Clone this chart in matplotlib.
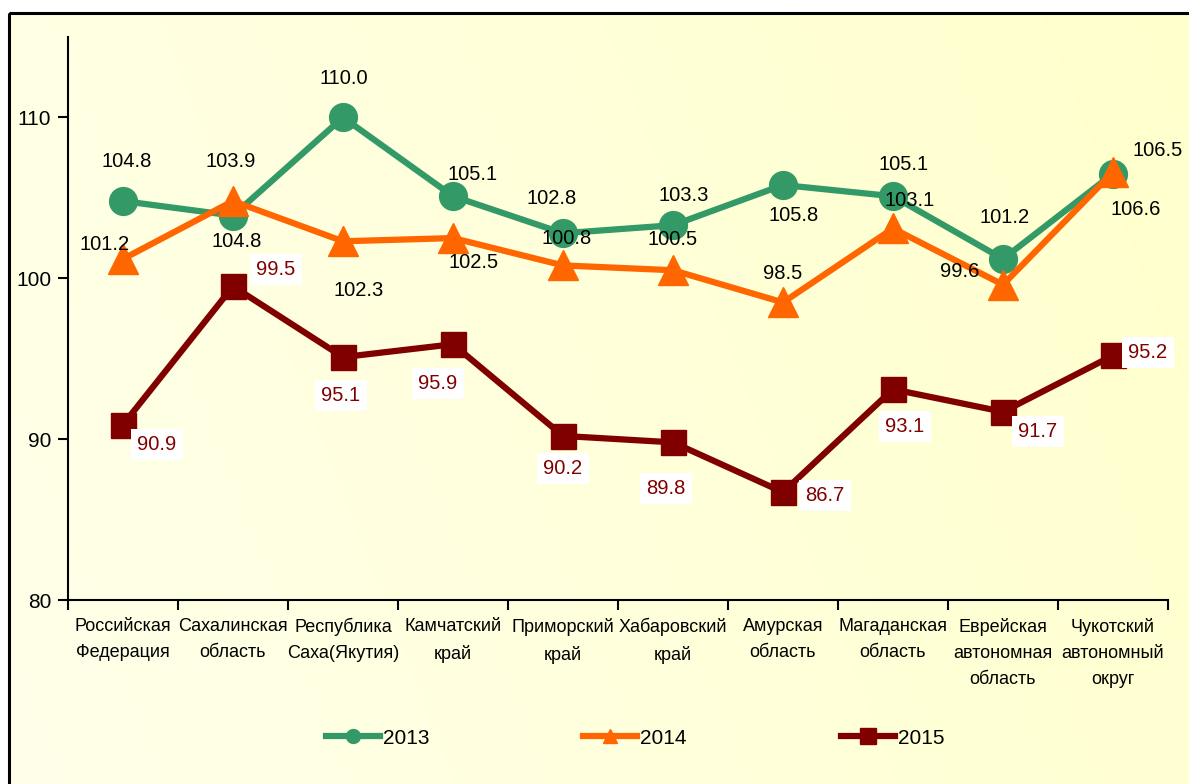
import matplotlib
matplotlib.use('Agg')
import matplotlib.pyplot as plt
import numpy as np
from matplotlib.patches import Rectangle
from matplotlib.lines import Line2D

plt.rcParams['font.family'] = ['Liberation Sans', 'DejaVu Sans']

categories = ["Российская\nФедерация", "Сахалинская\nобласть", "Республика\nСаха(Якутия)",
              "Камчатский\nкрай", "Приморский\nкрай", "Хабаровский\nкрай",
              "Амурская\nобласть", "Магаданская\nобласть",
              "Еврейская\nавтономная\nобласть", "Чукотский\nавтономный\nокруг"]
years = ["2013", "2014", "2015"]
v2013 = [104.8, 103.9, 110.0, 105.1, 102.8, 103.3, 105.8, 105.1, 101.2, 106.5]
v2014 = [101.2, 104.8, 102.3, 102.5, 100.8, 100.5, 98.5, 103.1, 99.6, 106.6]
v2015 = [90.9, 99.5, 95.1, 95.9, 90.2, 89.8, 86.7, 93.1, 91.7, 95.2]
yticks = [80, 90, 100, 110]

# label offsets in pixels (layout only)
off2013 = [(4, 42), (-2, 56), (1, 41), (20, 24), (-11, 37), (11, 32), (11, -29), (11, 34), (2, 43), (45, 25)]
off2014 = [(-18, 16), (4, -38), (16, -47), (21, -22), (4, 29), (0, 33), (0, 31), (17, 30), (-43, 15), (23, -35)]
off2015 = [(34, -18), (43, 19), (-2, -36), (-15, -37), (0, -31), (-7, -44), (42, -1), (12, -35), (35, -18), (35, 5)]

W, H = 1189, 784
fig = plt.figure(figsize=(W / 100, H / 100), dpi=100, facecolor='white')

# background gradient inside the border
bg = fig.add_axes([0, 0, 1, 1], zorder=-10)
bg.set_xlim(0, W)
bg.set_ylim(H, 0)
bg.axis('off')
nx, ny = 256, 64
gx = np.linspace(0, 1, nx)[None, :]
gy = np.linspace(0, 1, ny)[:, None]
t = np.clip(0.8 * gx + 0.2 * (1 - gy), 0, 1)
c0 = np.array([255, 255, 234]) / 255.0
c1 = np.array([255, 255, 204]) / 255.0
img = c0[None, None, :] * (1 - t[..., None]) + c1[None, None, :] * t[..., None]
bg.imshow(img, extent=(9, W + 5, H + 5, 13), aspect='auto', interpolation='bilinear')
bg.add_patch(Rectangle((9, 13), W, H, fill=False, edgecolor='black', lw=2.2))

ax = fig.add_axes([68 / W, 1 - 600 / H, 1100 / W, 563 / H])
ax.set_facecolor('none')
x = np.arange(len(categories))

green = '#339966'
orange = '#FF6600'
dred = '#800000'

ax.plot(x, v2013, color=green, lw=4.5, marker='o', ms=20, zorder=3, clip_on=False)
ax.plot(x, v2014, color=orange, lw=4.5, marker='^', ms=21, zorder=4, clip_on=False)
ax.plot(x, v2015, color=dred, lw=4.5, marker='s', ms=18, zorder=5, clip_on=False)

for vals, offs in ((v2013, off2013), (v2014, off2014)):
    for xi, v, (dx, dy) in zip(x, vals, offs):
        ax.annotate(f"{v:.1f}", (xi, v), xytext=(dx, dy), textcoords='offset pixels',
                    ha='center', va='center_baseline', fontsize=14.5, color='black', zorder=6)
for xi, v, (dx, dy) in zip(x, v2015, off2015):
    ax.annotate(f"{v:.1f}", (xi, v), xytext=(dx, dy), textcoords='offset pixels',
                ha='center', va='center_baseline', fontsize=14.5, color=dred, zorder=7,
                bbox=dict(boxstyle='square,pad=0.3', facecolor='white', edgecolor='none'))

ax.set_xlim(-0.5, len(categories) - 0.5)
ax.set_ylim(80, 115)
ax.set_yticks(yticks)
ax.set_yticklabels([str(v) for v in yticks], fontsize=15)
ax.set_xticks(np.arange(-0.5, len(categories), 1.0))
ax.set_xticklabels([])
ax.set_xticks(x, minor=True)
ax.set_xticklabels(categories, minor=True, fontsize=13, linespacing=1.68)
ax.tick_params(axis='x', which='minor', length=0, pad=13)
ax.tick_params(axis='x', which='major', length=7, width=1.5, direction='out')
ax.tick_params(axis='y', length=7, width=1.5, direction='out', pad=5)
for s in ('top', 'right'):
    ax.spines[s].set_visible(False)
for s in ('left', 'bottom'):
    ax.spines[s].set_linewidth(1.5)

# legend, three entries placed like the original
handles = [
    Line2D([], [], color=green, lw=4.5, marker='o', ms=10),
    Line2D([], [], color=orange, lw=4.5, marker='^', ms=10),
    Line2D([], [], color=dred, lw=4.5, marker='s', ms=12),
]
lx = [326, 583, 841]
for h, lab, xx in zip(handles, years, lx):
    fig.legend(handles=[h], labels=[lab], loc='center left',
               bbox_to_anchor=(xx / W, 1 - 738 / H), bbox_transform=fig.transFigure,
               frameon=False, fontsize=15, handlelength=2.6, handletextpad=0.12,
               borderpad=0, borderaxespad=0)

fig.savefig('out.png', dpi=100, facecolor='white')
